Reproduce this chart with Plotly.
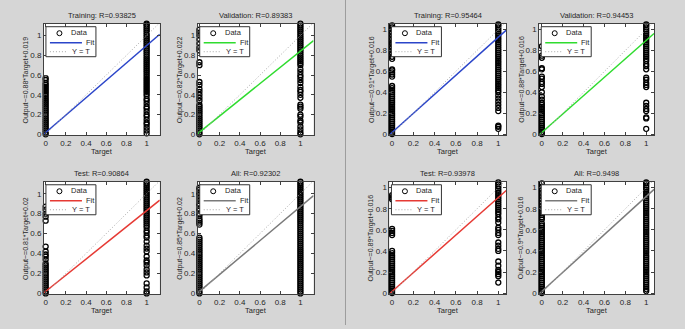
import plotly.graph_objects as go

W, H = 685, 329

# ---------------- data ----------------
titles = ["Training: R=0.93825", "Validation: R=0.89383", "Test: R=0.90864", "All: R=0.92302",
          "Training: R=0.95464", "Validation: R=0.94453", "Test: R=0.93978", "All: R=0.9498"]
fit_slope = [0.88, 0.82, 0.81, 0.85, 0.91, 0.88, 0.89, 0.9]
fit_icpt = [0.019, 0.022, 0.02, 0.02, 0.016, 0.016, 0.016, 0.016]
ylabels = ["Output~=0.88*Target+0.019", "Output~=0.82*Target+0.022", "Output~=0.81*Target+0.02",
           "Output~=0.85*Target+0.02", "Output~=0.91*Target+0.016", "Output~=0.88*Target+0.016",
           "Output~=0.89*Target+0.016", "Output~=0.9*Target+0.016"]
fit_colors = ["#2b45c9", "#2fdc2f", "#e63a34", "#7a7a7a", "#2b45c9", "#2fdc2f", "#e63a34", "#7a7a7a"]
legend_labels = ["Data", "Fit", "Y = T"]

# outputs for target = 0 and target = 1
L_tr_t0 = [0.00, 0.02, 0.04, 0.06, 0.08, 0.10, 0.12, 0.14, 0.16, 0.18, 0.20, 0.22, 0.24, 0.26, 0.28, 0.30,
           0.32, 0.34, 0.36, 0.38, 0.40, 0.42, 0.44, 0.46, 0.48, 0.50, 0.52, 0.55, 0.57]
L_tr_t1 = [0.01, 0.04, 0.07, 0.10, 0.12, 0.15, 0.18, 0.20, 0.23, 0.26, 0.28, 0.31, 0.34, 0.36, 0.39, 0.41,
           0.43, 0.45, 0.47, 0.49, 0.51, 0.53, 0.55, 0.57, 0.59, 0.61, 0.63, 0.65, 0.67, 0.69, 0.71, 0.73,
           0.75, 0.77, 0.79, 0.81, 0.83, 0.85, 0.87, 0.89, 0.91, 0.93, 0.95, 0.97, 0.99, 1.01, 1.03, 1.05,
           1.07, 1.09, 1.11, 1.12]
L_va_t0 = [0.00, 0.02, 0.04, 0.06, 0.08, 0.10, 0.12, 0.14, 0.16, 0.18, 0.20, 0.22, 0.24, 0.26, 0.28, 0.30,
           0.34, 0.37, 0.40, 0.43, 0.46, 0.50, 0.53, 0.70, 0.73, 0.85, 0.88, 0.92, 0.96, 1.00, 1.03, 1.06]
L_va_t1 = [0.00, 0.02, 0.05, 0.08, 0.12, 0.14, 0.18, 0.20, 0.26, 0.28, 0.30, 0.37, 0.40, 0.43, 0.45, 0.48,
           0.52, 0.55, 0.58, 0.60, 0.63, 0.66, 0.70, 0.72, 0.74, 0.76, 0.78, 0.80, 0.82, 0.84, 0.86, 0.88,
           0.90, 0.92, 0.94, 0.96, 0.98, 1.00, 1.02, 1.04, 1.06, 1.08, 1.10, 1.12]
L_te_t0 = [0.00, 0.02, 0.04, 0.06, 0.08, 0.10, 0.12, 0.14, 0.16, 0.18, 0.20, 0.22, 0.24, 0.26, 0.28, 0.30,
           0.34, 0.37, 0.39, 0.42, 0.47, 0.73, 0.77, 0.80, 0.84, 0.87]
L_te_t1 = [0.00, 0.02, 0.06, 0.10, 0.18, 0.21, 0.24, 0.28, 0.31, 0.33, 0.37, 0.42, 0.45, 0.48, 0.52, 0.56,
           0.58, 0.61, 0.63, 0.66, 0.68, 0.70, 0.72, 0.74, 0.76, 0.78, 0.80, 0.82, 0.84, 0.86, 0.88, 0.90,
           0.92, 0.94, 0.96, 0.98, 1.00, 1.02, 1.04, 1.06, 1.08, 1.10, 1.12]
L_al_t0 = [0.00, 0.02, 0.04, 0.06, 0.08, 0.10, 0.12, 0.14, 0.16, 0.18, 0.20, 0.22, 0.24, 0.26, 0.28, 0.30,
           0.32, 0.34, 0.36, 0.38, 0.40, 0.42, 0.44, 0.46, 0.48, 0.50, 0.52, 0.54, 0.56, 0.69, 0.71, 0.73,
           0.75, 0.78, 0.80, 0.83, 0.85, 0.88, 0.90, 0.93, 0.96, 0.99, 1.01, 1.04, 1.06]
L_al_t1 = [0.00, 0.02, 0.04, 0.06, 0.08, 0.10, 0.12, 0.14, 0.16, 0.18, 0.20, 0.22, 0.24, 0.26, 0.28, 0.30,
           0.32, 0.34, 0.36, 0.38, 0.40, 0.42, 0.44, 0.46, 0.48, 0.50, 0.52, 0.54, 0.56, 0.58, 0.60, 0.62,
           0.64, 0.66, 0.68, 0.70, 0.72, 0.74, 0.76, 0.78, 0.80, 0.82, 0.84, 0.86, 0.88, 0.90, 0.92, 0.94,
           0.96, 0.98, 1.00, 1.02, 1.04, 1.06, 1.08, 1.10, 1.12]
R_tr_t0 = [0.00, 0.02, 0.04, 0.06, 0.08, 0.10, 0.12, 0.14, 0.16, 0.18, 0.20, 0.22, 0.24, 0.26, 0.28, 0.30,
           0.32, 0.34, 0.36, 0.38, 0.40, 0.42, 0.44, 0.46, 0.55, 0.57, 0.59, 0.61, 0.62, 0.72, 0.74, 0.77,
           0.80, 0.83, 0.86, 0.88, 0.91, 0.94, 0.97, 1.00, 1.02, 1.04]
R_tr_t1 = [0.05, 0.07, 0.08, 0.22, 0.25, 0.28, 0.31, 0.34, 0.37, 0.40, 0.42, 0.44, 0.46, 0.48, 0.50, 0.52,
           0.54, 0.56, 0.58, 0.60, 0.62, 0.64, 0.66, 0.68, 0.70, 0.72, 0.74, 0.76, 0.78, 0.80, 0.82, 0.84,
           0.86, 0.88, 0.90, 0.92, 0.94, 0.96, 0.98, 1.00, 1.02, 1.04, 1.05]
R_va_t0 = [0.00, 0.02, 0.04, 0.06, 0.08, 0.10, 0.12, 0.14, 0.16, 0.18, 0.20, 0.22, 0.24, 0.26, 0.28, 0.30,
           0.33, 0.36, 0.40, 0.45, 0.48, 0.50, 0.53, 0.55, 0.62, 0.63, 0.73, 0.75, 0.84]
R_va_t1 = [0.05, 0.15, 0.16, 0.22, 0.24, 0.27, 0.30, 0.45, 0.47, 0.49, 0.52, 0.54, 0.62, 0.65, 0.67, 0.70,
           0.72, 0.74, 0.76, 0.78, 0.80, 0.82, 0.84, 0.86, 0.88, 0.90, 0.92, 0.94, 0.96, 0.98, 1.00, 1.02,
           1.04, 1.05]
R_te_t0 = [0.00, 0.02, 0.04, 0.06, 0.08, 0.10, 0.12, 0.14, 0.16, 0.18, 0.20, 0.22, 0.24, 0.26, 0.28, 0.30,
           0.32, 0.34, 0.36, 0.38, 0.40, 0.55, 0.57, 0.59, 0.61, 0.89, 0.91, 0.93]
R_te_t1 = [0.10, 0.16, 0.18, 0.20, 0.22, 0.26, 0.30, 0.40, 0.42, 0.45, 0.48, 0.55, 0.57, 0.60, 0.62, 0.67,
           0.70, 0.72, 0.75, 0.77, 0.79, 0.81, 0.83, 0.85, 0.87, 0.89, 0.91, 0.93, 0.95, 0.97, 0.99, 1.01,
           1.03, 1.05]
R_al_t0 = [0.00, 0.02, 0.04, 0.06, 0.08, 0.10, 0.12, 0.14, 0.16, 0.18, 0.20, 0.22, 0.24, 0.26, 0.28, 0.30,
           0.32, 0.34, 0.36, 0.38, 0.40, 0.42, 0.44, 0.46, 0.48, 0.50, 0.52, 0.54, 0.56, 0.58, 0.60, 0.62,
           0.64, 0.66, 0.70, 0.72, 0.74, 0.76, 0.78, 0.80, 0.83, 0.86, 0.89, 0.92, 0.95, 0.98, 1.01, 1.04]
R_al_t1 = [0.02, 0.04, 0.06, 0.08, 0.10, 0.12, 0.14, 0.16, 0.18, 0.20, 0.22, 0.24, 0.26, 0.28, 0.30, 0.32,
           0.34, 0.36, 0.38, 0.40, 0.42, 0.44, 0.46, 0.48, 0.50, 0.52, 0.54, 0.56, 0.58, 0.60, 0.62, 0.64,
           0.66, 0.68, 0.70, 0.72, 0.74, 0.76, 0.78, 0.80, 0.82, 0.84, 0.86, 0.88, 0.90, 0.92, 0.94, 0.96,
           0.98, 1.00, 1.02, 1.04, 1.05]

outputs_t0 = [L_tr_t0, L_va_t0, L_te_t0, L_al_t0, R_tr_t0, R_va_t0, R_te_t0, R_al_t0]
outputs_t1 = [L_tr_t1, L_va_t1, L_te_t1, L_al_t1, R_tr_t1, R_va_t1, R_te_t1, R_al_t1]
tick_vals = [0, 0.2, 0.4, 0.6, 0.8, 1]
tick_text = ["0", "0.2", "0.4", "0.6", "0.8", "1"]

# ---------------- layout geometry ----------------
cols_px = [(43, 159), (197, 313), (389, 506), (539, 654)]
rows_px = [(24, 137), (184, 298)]
cells = [(0, 0), (0, 1), (1, 0), (1, 1), (0, 2), (0, 3), (1, 2), (1, 3)]
xranges = [[-0.017, 1.13]] * 4 + [[-0.025, 1.075]] * 4
yranges = [[-0.01, 1.12]] * 4 + [[-0.012, 1.056]] * 4

FONT = "Liberation Sans, Arial, sans-serif"
TXT = "#262626"
DOTC = "#a8a8a8"
DOTDASH = "1px,2px"

fig = go.Figure()
layout = {}
annotations = []
shapes = [dict(type="line", xref="paper", yref="paper", x0=345 / W, x1=345 / W, y0=0, y1=1,
               line=dict(color="#9c9c9c", width=1))]


def pxshape(xa, ya, kind, x0, x1, y0, y1, **kw):
    return dict(type=kind, xref=xa + " domain", yref=ya + " domain", xsizemode="pixel", ysizemode="pixel",
                xanchor=0, yanchor=1, x0=x0, x1=x1, y0=y0, y1=y1, layer="above", **kw)


def ann(text, x, y, size=7.5, angle=0):
    return dict(text=text, x=x, y=y, xref="paper", yref="paper", xanchor="center", yanchor="middle",
                showarrow=False, textangle=angle, font=dict(size=size, color=TXT, family=FONT))


for k in range(8):
    r, c = cells[k]
    x0p, x1p = cols_px[c]
    y0p, y1p = rows_px[r]
    sfx = "" if k == 0 else str(k + 1)
    xa, ya = "x" + sfx, "y" + sfx
    xr, yr = xranges[k], yranges[k]

    xs = [0] * len(outputs_t0[k]) + [1] * len(outputs_t1[k])
    ys = outputs_t0[k] + outputs_t1[k]
    fig.add_trace(go.Scatter(x=xs, y=ys, mode="markers", name="Data", xaxis=xa, yaxis=ya,
                             cliponaxis=False, showlegend=False,
                             marker=dict(symbol="circle-open", size=5, color="black", line=dict(width=1.3))))
    lx = [xr[0], xr[1]]
    fig.add_trace(go.Scatter(x=lx, y=[fit_slope[k] * v + fit_icpt[k] for v in lx], mode="lines", name="Fit",
                             xaxis=xa, yaxis=ya, showlegend=False,
                             line=dict(color=fit_colors[k], width=1.5)))
    fig.add_trace(go.Scatter(x=lx, y=lx, mode="lines", name="Y = T", xaxis=xa, yaxis=ya, showlegend=False,
                             line=dict(color=DOTC, width=1, dash=DOTDASH)))

    axcommon = dict(showgrid=False, zeroline=False, showline=True, linecolor="#404040", linewidth=1,
                    mirror="ticks", ticks="inside", ticklen=3, tickcolor="#404040",
                    tickvals=tick_vals, ticktext=tick_text, tickfont=dict(size=8, color=TXT, family=FONT))
    layout["xaxis" + sfx] = dict(axcommon, domain=[x0p / W, x1p / W], range=xr, anchor=ya)
    layout["yaxis" + sfx] = dict(axcommon, domain=[1 - y1p / H, 1 - y0p / H], range=yr, anchor=xa)

    # legend box (drawn manually, MATLAB style)
    shapes.append(pxshape(xa, ya, "rect", 2, 52, -3, -33, fillcolor="white", line=dict(color="#333333", width=1)))
    shapes.append(pxshape(xa, ya, "circle", 13, 18, -7, -12, line=dict(color="black", width=1)))
    shapes.append(pxshape(xa, ya, "line", 6, 38, -19, -19, line=dict(color=fit_colors[k], width=1.5)))
    shapes.append(pxshape(xa, ya, "line", 6, 24, -28, -28, line=dict(color=DOTC, width=1, dash=DOTDASH)))
    for txt, xs_, ys_ in zip(legend_labels, [25, 40, 26], [-9, -19, -28]):
        annotations.append(dict(text=txt, x=0, y=1, xref=xa + " domain", yref=ya + " domain",
                                xshift=xs_, yshift=ys_, xanchor="left", yanchor="middle", showarrow=False,
                                font=dict(size=7.5, color=TXT, family=FONT)))

    cx = (x0p + x1p) / 2 / W
    annotations.append(ann(titles[k], cx, 1 - (y0p - 8) / H))
    annotations.append(ann("Target", cx, 1 - (y1p + 16) / H))
    annotations.append(ann(ylabels[k], (x0p - 18) / W, 1 - (y0p + y1p) / 2 / H, size=7, angle=-90))

fig.update_layout(**layout)
fig.update_layout(
    width=W, height=H, margin=dict(l=0, r=0, t=0, b=0),
    paper_bgcolor="#d6d6d6", plot_bgcolor="white", showlegend=False,
    annotations=annotations, shapes=shapes,
    font=dict(family=FONT, size=8, color=TXT),
)
fig.write_html("out.html", config={"displayModeBar": False},
               post_script="document.body.style.margin='0';document.body.style.padding='0';")
